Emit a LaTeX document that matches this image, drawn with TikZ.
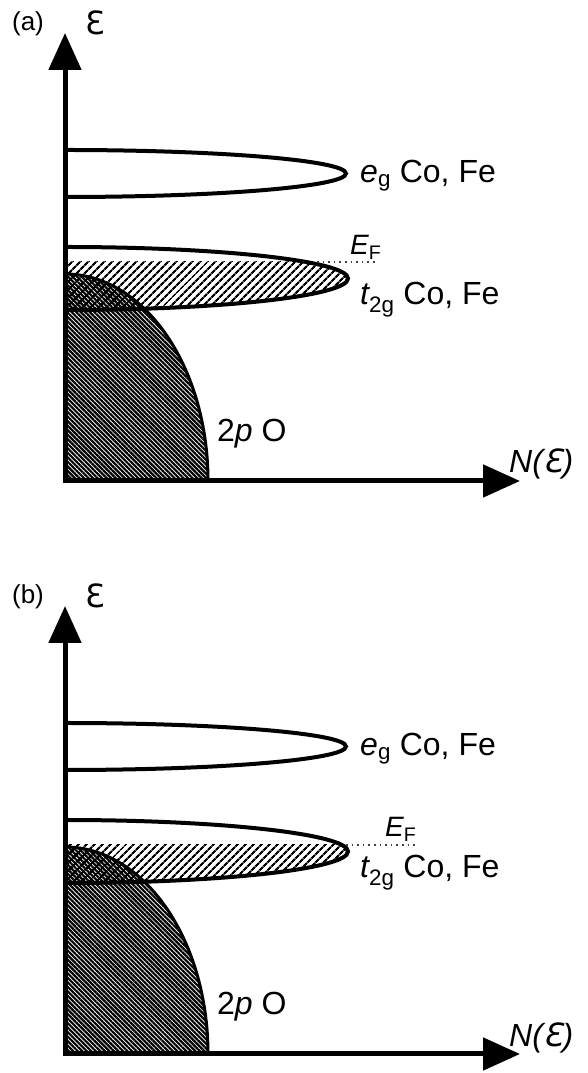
\documentclass[tikz,border=0pt]{standalone}
\usepackage{fontspec}
\setmainfont{Liberation Sans}
\newfontfamily\epsfont{DejaVu Sans}
\usetikzlibrary{arrows.meta,patterns.meta}

\newcommand{\eps}{{\epsfont Ɛ}}

\begin{document}
\begin{tikzpicture}[x=1pt, y=1pt,
        axis/.style={line width=5pt, {Triangle[length=37pt,width=32pt]}-{Triangle[length=37pt,width=32pt]}},
        bandline/.style={line width=4pt},
        ohatch/.style={pattern={Lines[angle=-45,distance=3.2pt,line width=2.2pt]}},
        thatch/.style={pattern={Lines[angle=45,distance=5.4pt,line width=2.2pt]}},
        fermi/.style={line width=1.6pt, dash pattern=on 1.6pt off 4pt, black!75},
        lbl/.style={font=\fontsize{32}{38}\selectfont, inner sep=0pt},
        sublbl/.style={font=\fontsize{28}{32}\selectfont, inner sep=0pt},
        panel/.style={font=\fontsize{26}{30}\selectfont, inner sep=0pt}
    ]
    \useasboundingbox (0,0) rectangle (587,1073);

    % panel (a)
    \begin{scope}[shift={(65,592)}]
        \coordinate (aorg) at (0,0);
        \coordinate (aytip) at (0,448);
        \coordinate (axtip) at (455,0);
        \coordinate (aefl) at (252,219);
        \coordinate (aefr) at (312,219);
        % filled t2g states below E_F
        \begin{scope}
            \clip (0,234) arc[start angle=90, end angle=-90, x radius=283pt, y radius=31.5pt] -- cycle;
            \fill[thatch] (0,160) rectangle (290,219);
        \end{scope}
        % 2p O band
        \fill[ohatch] (0,207) arc[start angle=90, end angle=0, x radius=143pt, y radius=207pt] -- (aorg) -- cycle;
        \draw[line width=3pt] (0,207) arc[start angle=90, end angle=0, x radius=143pt, y radius=207pt];
        % d bands
        \draw[bandline] (0,234) arc[start angle=90, end angle=-90, x radius=283pt, y radius=31.5pt];
        \draw[bandline] (0,331) arc[start angle=90, end angle=-90, x radius=281pt, y radius=23.5pt];
        \draw[fermi] (aefl) -- (aefr);
        \draw[axis] (aytip) -- (aorg) -- (axtip);

        \node[panel] (alab) at (-37,457) {(a)};
        \node[lbl] (aeps) at (30,458) {\eps};
        \node[lbl, anchor=base west] (aeg) at (295,298) {{\itshape e}\textsubscript{g} Co, Fe};
        \node[lbl, anchor=base west] (atg) at (295,176) {{\itshape t}\textsubscript{2g} Co, Fe};
        \node[sublbl, anchor=base west] (aef) at (285,226) {{\itshape E}\textsubscript{F}};
        \node[lbl, anchor=base west] (aop) at (152,39) {2{\itshape p} O};
        \node[lbl, anchor=base west] (anl) at (444,8) {\itshape N({\epsfont\itshape Ɛ})};
    \end{scope}

    % panel (b)
    \begin{scope}[shift={(65,19)}]
        \coordinate (borg) at (0,0);
        \coordinate (bytip) at (0,448);
        \coordinate (bxtip) at (455,0);
        \coordinate (befl) at (281,209);
        \coordinate (befr) at (350,209);
        % filled t2g states below E_F
        \begin{scope}
            \clip (0,234) arc[start angle=90, end angle=-90, x radius=283pt, y radius=31.5pt] -- cycle;
            \fill[thatch] (0,160) rectangle (290,209);
        \end{scope}
        % 2p O band
        \fill[ohatch] (0,207) arc[start angle=90, end angle=0, x radius=143pt, y radius=207pt] -- (borg) -- cycle;
        \draw[line width=3pt] (0,207) arc[start angle=90, end angle=0, x radius=143pt, y radius=207pt];
        % d bands
        \draw[bandline] (0,234) arc[start angle=90, end angle=-90, x radius=283pt, y radius=31.5pt];
        \draw[bandline] (0,331) arc[start angle=90, end angle=-90, x radius=281pt, y radius=23.5pt];
        \draw[fermi] (befl) -- (befr);
        \draw[axis] (bytip) -- (borg) -- (bxtip);

        \node[panel] (blab) at (-37,457) {(b)};
        \node[lbl] (beps) at (30,458) {\eps};
        \node[lbl, anchor=base west] (beg) at (295,298) {{\itshape e}\textsubscript{g} Co, Fe};
        \node[lbl, anchor=base west] (btg) at (295,176) {{\itshape t}\textsubscript{2g} Co, Fe};
        \node[sublbl, anchor=base west] (bef) at (320,217) {{\itshape E}\textsubscript{F}};
        \node[lbl, anchor=base west] (bop) at (152,39) {2{\itshape p} O};
        \node[lbl, anchor=base west] (bnl) at (444,8) {\itshape N({\epsfont\itshape Ɛ})};
    \end{scope}
\end{tikzpicture}
\end{document}
